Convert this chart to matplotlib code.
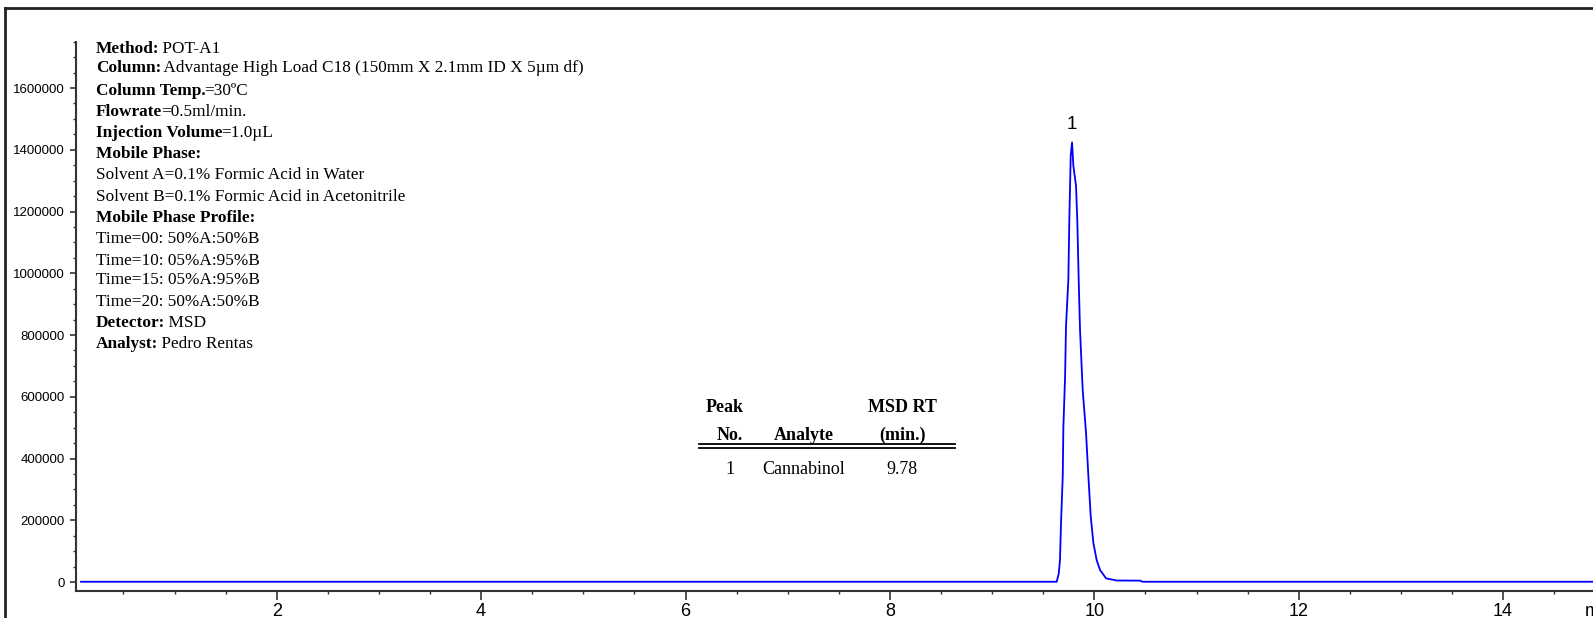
import matplotlib
matplotlib.use("Agg")
import matplotlib.pyplot as plt
from matplotlib.lines import Line2D
from matplotlib.ticker import MultipleLocator, FuncFormatter

W, H = 1593, 618

# chromatogram trace (time in min, abundance)
time_min = [0.085, 9.632, 9.652, 9.664, 9.674, 9.691, 9.697, 9.714, 9.723, 9.746,
            9.755, 9.769, 9.782, 9.795, 9.821, 9.834, 9.847, 9.860, 9.886, 9.919,
            9.942, 9.965, 9.991, 10.023, 10.056, 10.115, 10.22, 10.45, 10.47, 15.5]
abundance = [1000, 1000, 28000, 71000, 190000, 342000, 499000, 667000, 829000, 980000,
             1165000, 1381000, 1424000, 1348000, 1283000, 1165000, 980000, 818000, 623000, 483000,
             342000, 212000, 126000, 71000, 39000, 12000, 5000, 4500, 1000, 1000]

peak_no = ["1"]
peak_rt = [9.78]
peak_height = [1424000]
analytes = ["Cannabinol"]

# method info: (bold part, normal part)
info_lines = [
    ("Method:", " POT-A1"),
    ("Column:", " Advantage High Load C18 (150mm X 2.1mm ID X 5\u00b5m df)"),
    ("Column Temp.", "=30\u00baC"),
    ("Flowrate", "=0.5ml/min."),
    ("Injection Volume", "=1.0\u00b5L"),
    ("Mobile Phase:", ""),
    ("", "Solvent A=0.1% Formic Acid in Water"),
    ("", "Solvent B=0.1% Formic Acid in Acetonitrile"),
    ("Mobile Phase Profile:", ""),
    ("", "Time=00: 50%A:50%B"),
    ("", "Time=10: 05%A:95%B"),
    ("", "Time=15: 05%A:95%B"),
    ("", "Time=20: 50%A:50%B"),
    ("Detector:", " MSD"),
    ("Analyst:", " Pedro Rentas"),
]
info_y = [49, 68, 91, 112, 133, 154, 175, 197, 218, 239, 261, 280, 302, 323, 344]

serif = ["Liberation Serif", "DejaVu Serif"]
sans = ["Liberation Sans", "DejaVu Sans"]
info_size = 12.4
table_size = 13


def fx(px):
    return px / W


def fy(py):
    return 1 - py / H


fig = plt.figure(figsize=(W / 100, H / 100), dpi=100)

# axes extends past the right edge of the picture (cropped screenshot)
x0, x1 = 0.036, 15.6
ax_left, ax_bottom, ax_top = 76, 590.7, 41.7
ax_w = (x1 - x0) * 102.2
ax = fig.add_axes([fx(ax_left), fy(ax_bottom), ax_w / W, (ax_bottom - ax_top) / H])

ax.plot(time_min, abundance, color="#0000ff", lw=1.3)
ax.set_xlim(x0, x1)
ax.set_ylim(-28000, 1750000)

for s in ["top", "right"]:
    ax.spines[s].set_visible(False)
for s in ["left", "bottom"]:
    ax.spines[s].set_color("#333333")
    ax.spines[s].set_linewidth(1.5)

ax.xaxis.set_major_locator(MultipleLocator(2))
ax.xaxis.set_minor_locator(MultipleLocator(0.5))
ax.yaxis.set_major_locator(MultipleLocator(200000))
ax.yaxis.set_minor_locator(MultipleLocator(50000))
ax.yaxis.set_major_formatter(FuncFormatter(lambda v, p: f"{int(v)}"))
ax.tick_params(axis="x", which="major", length=6.5, width=1.2, color="#333333", pad=2)
ax.tick_params(axis="x", which="minor", length=2.5, width=1.0, color="#333333")
ax.tick_params(axis="y", which="major", length=4.3, width=1.2, color="#333333", pad=4)
ax.tick_params(axis="y", which="minor", length=2.2, width=1.0, color="#333333")
for lab in ax.get_xticklabels():
    lab.set_family(sans)
    lab.set_fontsize(13)
for lab in ax.get_yticklabels():
    lab.set_family(sans)
    lab.set_fontsize(9.5)

for n, rt, h in zip(peak_no, peak_rt, peak_height):
    ax.annotate(n, xy=(rt, h), xytext=(0, 7), textcoords="offset points",
                ha="center", va="bottom", family=sans, fontsize=13.5)

fig.text(fx(1585), fy(611), "min", ha="left", va="center", family=sans, fontsize=13)

# method info block
for (b, r), py in zip(info_lines, info_y):
    if b:
        t = fig.text(fx(96), fy(py), b, ha="left", va="center", family=serif,
                     fontweight="bold", fontsize=info_size)
        if r:
            ax.annotate(r, xy=(1, 0), xycoords=t, xytext=(-1, 0), textcoords="offset points",
                        ha="left", va="bottom", family=serif, fontsize=info_size,
                        annotation_clip=False)
    else:
        fig.text(fx(96), fy(py), r, ha="left", va="center", family=serif, fontsize=info_size)

# peak table
col_x = [730, 804, 902]
fig.text(fx(col_x[0] - 5), fy(407), "Peak", ha="center", va="center", family=serif,
         fontweight="bold", fontsize=table_size)
fig.text(fx(col_x[2]), fy(407), "MSD RT", ha="center", va="center", family=serif,
         fontweight="bold", fontsize=table_size)
for cx, hdr in zip(col_x, ["No.", "Analyte", "(min.)"]):
    fig.text(fx(cx), fy(435), hdr, ha="center", va="center", family=serif,
             fontweight="bold", fontsize=table_size)
for ly in [444, 448]:
    fig.add_artist(Line2D([fx(699), fx(955)], [fy(ly), fy(ly)], color="black", lw=1.3))
for i, (n, a, rt) in enumerate(zip(peak_no, analytes, peak_rt)):
    row_y = 469 + i * 22
    for cx, val in zip(col_x, [n, a, f"{rt:.2f}"]):
        fig.text(fx(cx), fy(row_y), val, ha="center", va="center", family=serif,
                 fontsize=table_size)

# frame of the original screenshot (top and left edges)
fig.add_artist(Line2D([fx(5), fx(5)], [0, fy(8)], color="#222222", lw=2))
fig.add_artist(Line2D([fx(5), 1], [fy(8), fy(8)], color="#222222", lw=2))

fig.savefig("out.png", dpi=100)
